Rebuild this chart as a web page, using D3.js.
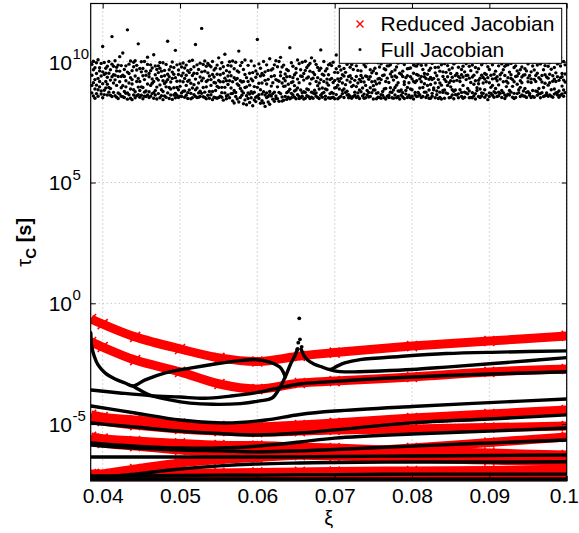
<!DOCTYPE html>
<html><head><meta charset="utf-8">
<script src="https://cdn.jsdelivr.net/npm/d3@7"></script>
<style>
html,body{margin:0;padding:0;background:#fff;}
svg{display:block;font-family:"Liberation Sans",Arial,Helvetica,sans-serif;}
</style></head><body>
<svg id="chart" width="579" height="533"></svg>
<script>
// ---- axis ticks ----
const xiTicks = [0.04, 0.05, 0.06, 0.07, 0.08, 0.09, 0.1];
const xiTickLabels = ["0.04", "0.05", "0.06", "0.07", "0.08", "0.09", "0.1"];
const tauTickExponents = [-5, 0, 5, 10];

// ---- Reduced Jacobian: time constants (log10 tau) on a common xi grid ----
const reducedXi = [0.0385, 0.04, 0.0442, 0.05, 0.0551, 0.06, 0.0655, 0.07, 0.08, 0.09, 0.1];
const reducedLogTau = [
  [-0.65, -0.86, -1.39, -1.89, -2.26, -2.41, -2.18, -2.04, -1.77, -1.56, -1.35],
  [-1.60, -1.81, -2.35, -2.84, -3.34, -3.55, -3.30, -3.22, -3.05, -2.84, -2.72],
  [-4.62, -4.71, -4.83, -4.98, -5.08, -5.12, -5.04, -4.95, -4.75, -4.58, -4.42],
  [-4.79, -4.87, -5.04, -5.20, -5.29, -5.33, -5.29, -5.24, -5.20, -5.14, -5.08],
  [-5.53, -5.60, -5.70, -5.80, -5.87, -5.89, -5.95, -5.99, -6.11, -6.20, -6.28],
  [-5.70, -5.78, -5.91, -6.07, -6.15, -6.20, -6.28, -6.32, -6.40, -6.49, -6.57],
  [-7.15, -7.07, -6.86, -6.61, -6.47, -6.38, -6.28, -6.20, -5.99, -5.76, -5.53],
  [-7.07, -7.07, -7.07, -7.04, -7.02, -7.00, -6.98, -6.96, -6.94, -6.92, -6.90],
  [-7.23, -7.23, -7.23, -7.21, -7.21, -7.19, -7.19, -7.19, -7.19, -7.19, -7.19]
];

// ---- Full Jacobian: fast branches on the same xi grid ----
const fullLogTau = [
  [-4.95, -5.00, -5.12, -5.29, -5.39, -5.45, -5.37, -5.24, -4.95, -4.79, -4.62],
  [-5.78, -5.82, -5.91, -5.99, -5.99, -5.91, -5.74, -5.58, -5.41, -5.29, -5.16],
  [-5.87, -5.91, -5.99, -6.07, -6.11, -6.15, -6.11, -6.05, -5.91, -5.78, -5.66],
  [-6.36, -6.36, -6.36, -6.36, -6.36, -6.36, -6.36, -6.34, -6.32, -6.30, -6.28],
  [-7.19, -7.19, -7.07, -6.86, -6.73, -6.65, -6.61, -6.59, -6.57, -6.57, -6.56],
  [-7.15, -7.15, -7.15, -7.13, -7.11, -7.11, -7.09, -7.09, -7.07, -7.07, -7.07],
  [-7.27, -7.27, -7.27, -7.27, -7.27, -7.27, -7.27, -7.27, -7.27, -7.27, -7.27]
];

// ---- Full Jacobian: branches with their own xi samples ----
const loopUpperXi = [0.03846, 0.0385, 0.03855, 0.0389, 0.0394, 0.0403, 0.0416, 0.0429, 0.0439, 0.0455, 0.0481, 0.0513, 0.0545, 0.0578, 0.0597, 0.0616, 0.0629, 0.0634, 0.0636];
const loopUpperLogTau = [-1.22, -1.45, -1.73, -2.18, -2.55, -2.88, -3.13, -3.30, -3.42, -3.17, -2.88, -2.68, -2.51, -2.37, -2.33, -2.43, -2.64, -2.88, -3.05];
const loopLowerXi = [0.0439, 0.0448, 0.0461, 0.0487, 0.0513, 0.0543, 0.0578, 0.0603, 0.0619, 0.0628, 0.0636, 0.0643, 0.0649, 0.0652];
const loopLowerLogTau = [-3.42, -3.59, -3.80, -4.00, -4.13, -4.18, -4.15, -4.04, -3.92, -3.55, -3.05, -2.51, -2.14, -1.89];
const midBranchXi = [0.0385, 0.0422, 0.0461, 0.0500, 0.0532, 0.0565, 0.0597, 0.0629, 0.0655, 0.0690, 0.0759, 0.0844, 0.1];
const midBranchLogTau = [-3.59, -3.71, -3.82, -3.88, -3.93, -3.84, -3.71, -3.49, -3.34, -3.25, -3.11, -2.99, -2.83];
const rightUpperXi = [0.06564, 0.0660, 0.0665, 0.0673, 0.0684, 0.0694, 0.0702, 0.0713, 0.0733, 0.0784, 0.0844, 0.0914, 0.1];
const rightUpperLogTau = [-1.89, -2.14, -2.35, -2.51, -2.64, -2.74, -2.62, -2.47, -2.33, -2.20, -2.08, -2.02, -1.97];
const rightLowerXi = [0.0694, 0.0704, 0.0720, 0.0759, 0.08, 0.0844, 0.0914, 0.1];
const rightLowerLogTau = [-2.74, -2.82, -2.84, -2.80, -2.74, -2.64, -2.47, -2.25];
const lowBranchXi = [0.0385, 0.0442, 0.05, 0.0552, 0.0578, 0.0611, 0.0655, 0.07, 0.08, 0.09, 0.1];
const lowBranchLogTau = [-4.25, -4.54, -4.83, -4.95, -4.93, -4.83, -4.60, -4.46, -4.27, -4.11, -3.96];
const spikeXi = [0.06542, 0.06551, 0.06529, 0.06573, 0.06516];
const spikeLogTau = [-0.62, -1.49, -1.63, -1.80, -1.90];

// ---- Full Jacobian: spurious slow modes, 4 values per xi sample (log10 tau x 100) ----
const cloudXiStart = 0.0386, cloudXiStep = 0.0002, cloudPerXi = 4;
const cloudLogTau100 = [
944,871,989,902,913,967,858,1002,887,975,926,849,996,903,951,868,931,884,1008,857,896,962,918,975,866,993,879,941,958,909,851,1063,882,947,997,864,952,891,973,918,
907,981,862,936,1001,874,952,893,861,967,924,889,938,856,990,1104,873,946,912,981,925,859,1004,944,977,902,853,962,848,939,986,871,961,917,866,1021,892,984,939,857,
855,944,1036,901,939,877,968,852,983,869,921,896,871,957,845,1132,951,912,990,863,849,1003,887,934,926,843,963,908,884,979,862,998,1004,876,941,851,918,966,859,985,
863,931,895,1074,972,853,918,881,896,958,1000,861,942,893,847,972,857,1001,926,874,961,879,944,856,908,989,862,1019,852,951,938,876,987,902,857,963,929,868,974,911,
872,1029,918,849,946,881,982,862,895,968,846,931,983,924,868,955,851,973,904,997,939,859,961,884,877,996,921,843,964,910,858,942,917,853,989,896,948,871,926,1085,
848,967,893,938,979,862,916,887,931,844,999,957,862,948,892,976,1047,869,934,851,893,987,861,919,966,884,947,852,857,920,991,898,942,978,871,856,878,953,917,995,
974,853,931,879,861,944,986,902,919,872,963,848,955,1002,883,924,847,968,911,869,1006,891,943,851,864,979,905,952,928,856,1071,884,891,951,852,987,853,912,968,871,
937,878,994,856,869,1138,921,958,989,855,893,932,852,961,874,1003,918,847,981,896,954,924,861,993,877,985,941,849,979,863,902,926,843,947,1001,877,914,966,853,937,
881,973,912,851,948,898,849,986,852,922,1016,893,971,857,917,946,894,996,853,872,841,952,979,917,932,871,894,1031,858,963,921,847,985,906,941,862,921,851,957,1000,
868,942,891,982,1003,869,917,838,881,971,829,934,926,856,998,873,962,908,846,931,833,1044,902,957,984,852,889,921,916,997,861,879,871,918,968,826,947,842,893,1007,
859,934,822,896,918,848,985,871,831,952,903,866,876,1003,851,929,955,869,921,818,842,983,897,874,936,853,962,835,894,1092,857,949,848,911,991,863,973,884,828,941,
866,951,839,912,829,944,876,1001,923,862,815,958,852,987,908,871,964,833,927,856,877,1012,864,824,939,858,966,899,845,971,913,868,987,874,836,942,858,926,1004,848,
923,847,979,896,873,1001,836,919,942,868,957,1018,837,978,912,854,898,931,841,986,856,949,899,921,968,844,938,872,877,963,907,853,939,886,847,1058,851,996,914,869,
917,862,981,934,946,901,853,879,883,954,847,972,1007,863,928,891,856,992,913,848,941,851,967,883,872,939,998,857,951,876,846,924,849,964,1002,873,932,887,859,976,
884,985,937,856,961,848,909,993,853,1016,874,928,932,871,956,849,867,947,882,1003,918,857,989,871,976,934,852,901,848,912,964,887,1049,861,926,973,891,948,869,853,
944,873,918,1001,857,962,887,845,912,884,971,928,987,851,903,946,849,926,992,868,931,873,851,984,869,998,914,853,922,847,956,891,893,971,1028,864,955,903,847,929,
852,981,919,887,966,857,931,1004,881,946,868,912,941,887,972,852,873,1041,905,956,924,862,989,878,998,939,863,851,857,916,977,942,931,849,897,988,902,968,856,1013,
874,1097,923,861,983,852,939,897,912,964,871,856,848,927,1002,883,962,876,943,918,1009,891,858,933,866,987,916,849,941,851,979,902,881,938,862,996,927,1003,873,854,
892,856,967,938,954,917,872,1024,846,962,901,883,973,883,919,1001,908,951,847,869,929,872,996,853,852,978,931,912,991,926,864,849,861,943,1008,877,945,887,851,971,
918,967,846,889,857,932,983,1002,983,861,914,852,874,949,892,987,938,873,959,851,849,1037,883,924,966,893,941,862,903,851,978,936,879,994,856,913,952,878,1005,846,
883,948,861,997,961,872,939,854,848,917,988,906,934,1003,866,881,893,971,852,942,972,861,913,1059,851,938,974,887,1001,884,929,857,918,952,846,986,862,914,983,873,
947,856,921,982,873,992,944,858,929,863,1004,891,985,917,852,939,856,1123,893,968,938,874,951,909,874,931,986,852,902,948,861,1002,964,883,927,849,849,973,906,935,
926,869,993,857,891,1014,931,884,954,851,912,976,863,942,879,1001,977,893,848,926,912,961,874,852,846,987,1017,903,939,873,958,881,883,927,849,992,1002,956,871,918,
868,938,902,984,913,851,967,1043,951,896,853,921,884,974,936,862,847,919,991,878,996,883,864,943,862,951,923,1006,939,867,977,851,918,1001,884,933,873,946,856,968,
981,902,849,937,853,958,1011,874,926,871,943,992,944,1002,867,889,879,932,981,851,963,852,914,1068,851,986,937,872,907,944,859,1003,976,868,921,846,892,957,998,881,
856,923,971,909,932,887,852,1026,987,944,871,858,869,912,996,935,951,853,928,884,917,996,862,947,843,934,979,1004,968,871,913,856,894,1011,944,869,929,861,987,902,
1003,948,876,853,871,931,961,889,938,856,1002,921,859,983,904,874,946,1032,869,928,881,954,991,852,967,872,917,1009,848,943,862,981,919,986,897,858,987,866,934,912,
862,957,1006,881,931,874,946,993,898,1047,853,926,976,917,869,848,852,939,983,1001,941,868,907,962,884,1003,951,872,967,856,921,894,913,978,862,937,858,944,1016,879,
946,889,971,857,873,962,852,1002,991,917,876,933,861,943,1004,869,929,852,958,914,982,1039,881,856,853,927,966,998,918,879,1001,943,877,952,861,986,1004,934,889,867,
868,991,927,851,943,872,1008,916,856,967,893,1024,984,911,859,946,871,1002,937,862,932,857,981,903,862,948,913,996,1001,884,969,857,919,853,942,1013,887,976,928,866,
954,871,1005,918,873,938,862,991,996,923,879,853,861,982,1017,934,938,867,951,899,883,1001,924,857,949,872,987,916
];

// ---- layout ----
const W = 579, H = 533;
const plot = {left: 90.7, right: 566.7, top: 3.5, bottom: 481};

const svg = d3.select("#chart");

const x = d3.scaleLinear().domain([0.03845, 0.1]).range([plot.left, plot.right]);
const y = d3.scaleLog().domain([Math.pow(10, -7.355), Math.pow(10, 12.41)]).range([plot.bottom, plot.top]);
const yl = v => y(Math.pow(10, v));

svg.append("defs").append("clipPath").attr("id", "plotClip")
  .append("rect").attr("x", plot.left).attr("y", plot.top)
  .attr("width", plot.right - plot.left).attr("height", plot.bottom - plot.top);

// grid
const grid = svg.append("g").attr("stroke", "#b0b0b0").attr("stroke-width", 1)
  .attr("stroke-dasharray", "1,3");
grid.selectAll("line.gx").data(xiTicks).join("line").attr("class", "gx")
  .attr("x1", d => x(d)).attr("x2", d => x(d))
  .attr("y1", plot.top).attr("y2", plot.bottom);
grid.selectAll("line.gy").data(tauTickExponents).join("line").attr("class", "gy")
  .attr("x1", plot.left).attr("x2", plot.right)
  .attr("y1", d => yl(d)).attr("y2", d => yl(d));

const marks = svg.append("g").attr("clip-path", "url(#plotClip)");

const line = d3.line().x(d => x(d[0])).y(d => yl(d[1])).curve(d3.curveCatmullRom.alpha(0.5));

// Reduced Jacobian bands (dense x markers)
const RED = "#ff0000";
const redG = marks.append("g");
reducedLogTau.forEach(series => {
  const pts = reducedXi.map((xi, i) => [xi, series[i]]);
  redG.append("path").attr("d", line(pts)).attr("fill", "none")
    .attr("stroke", RED).attr("stroke-width", 9).attr("stroke-linejoin", "round");
  redG.selectAll(null).data(pts).join("path")
    .attr("transform", d => `translate(${x(d[0])},${yl(d[1])})`)
    .attr("d", "M-5,-5L5,5M-5,5L5,-5")
    .attr("stroke", RED).attr("stroke-width", 1.6).attr("fill", "none");
});

// Full Jacobian branches
const blackG = marks.append("g").attr("fill", "none").attr("stroke", "#000")
  .attr("stroke-width", 3.4).attr("stroke-linejoin", "round").attr("stroke-linecap", "round");
fullLogTau.forEach(series => {
  blackG.append("path").attr("d", line(reducedXi.map((xi, i) => [xi, series[i]])));
});
[[loopUpperXi, loopUpperLogTau], [loopLowerXi, loopLowerLogTau], [midBranchXi, midBranchLogTau],
 [rightUpperXi, rightUpperLogTau], [rightLowerXi, rightLowerLogTau], [lowBranchXi, lowBranchLogTau]]
  .forEach(([xs, ts]) => {
    blackG.append("path").attr("d", line(xs.map((xi, i) => [xi, ts[i]])));
  });

const dotG = marks.append("g").attr("fill", "#000");
dotG.selectAll("circle.sp").data(spikeXi.map((xi, i) => [xi, spikeLogTau[i]])).join("circle")
  .attr("class", "sp").attr("cx", d => x(d[0])).attr("cy", d => yl(d[1])).attr("r", 1.9);

const cloud = cloudLogTau100.map((v, k) => [cloudXiStart + Math.floor(k / cloudPerXi) * cloudXiStep, v / 100]);
dotG.selectAll("circle.cl").data(cloud).join("circle")
  .attr("class", "cl").attr("cx", d => x(d[0])).attr("cy", d => yl(d[1])).attr("r", 1.7);

// axes (ticks point inward)
const xAxisB = d3.axisBottom(x).tickValues(xiTicks).tickSizeInner(-5).tickSizeOuter(0)
  .tickPadding(7).tickFormat((d, i) => xiTickLabels[i]);
const gxb = svg.append("g").attr("transform", `translate(0,${plot.bottom})`).call(xAxisB);
const gxt = svg.append("g").attr("transform", `translate(0,${plot.top})`)
  .call(d3.axisTop(x).tickValues(xiTicks).tickSizeInner(-5).tickSizeOuter(0).tickFormat(""));
const yTickVals = tauTickExponents.map(e => Math.pow(10, e));
const gyl = svg.append("g").attr("transform", `translate(${plot.left},0)`)
  .call(d3.axisLeft(y).tickValues(yTickVals).tickSizeInner(-5).tickSizeOuter(0).tickFormat(""));
const gyr = svg.append("g").attr("transform", `translate(${plot.right},0)`)
  .call(d3.axisRight(y).tickValues(yTickVals).tickSizeInner(-5).tickSizeOuter(0).tickFormat(""));
[gxb, gxt, gyl, gyr].forEach(g => {
  g.select(".domain").remove();
  g.selectAll(".tick line").attr("stroke", "#000");
});
gxb.selectAll(".tick text").attr("font-size", 21).attr("fill", "#000")
  .attr("font-family", "'Liberation Sans',Arial,Helvetica,sans-serif");
// the last label sits against the right edge of the figure
gxb.selectAll(".tick text").filter((d, i, n) => i === n.length - 1)
  .attr("text-anchor", "end").attr("x", W - 0.5 - x(0.1));

// box
svg.append("rect").attr("x", plot.left).attr("y", plot.top)
  .attr("width", plot.right - plot.left).attr("height", plot.bottom - plot.top)
  .attr("fill", "none").attr("stroke", "#000").attr("stroke-width", 1.2);

// y tick labels 10^e
const yLab = svg.append("g").attr("fill", "#000");
tauTickExponents.forEach(e => {
  const yy = yl(e);
  yLab.append("text").attr("x", 72).attr("y", yy + 7.8).attr("text-anchor", "end")
    .attr("font-size", 21).text("10");
  yLab.append("text").attr("x", 72.5).attr("y", yy - 3).attr("text-anchor", "start")
    .attr("font-size", 15).text(String(e));
});

// axis titles
svg.append("text").attr("x", (plot.left + plot.right) / 2).attr("y", 525)
  .attr("text-anchor", "middle").attr("font-size", 20).text("ξ");

const yt = svg.append("text").attr("transform", `translate(31,${(plot.top + plot.bottom) / 2}) rotate(-90)`)
  .attr("text-anchor", "middle").attr("font-size", 20).attr("font-weight", "bold");
yt.append("tspan").attr("font-weight", "normal").text("τ");
yt.append("tspan").attr("font-size", 15).attr("dy", 5).text("C");
yt.append("tspan").attr("dy", -5).text(" [s]");

// legend
const lg = svg.append("g");
lg.append("rect").attr("x", 339.3).attr("y", 8.3).attr("width", 222.4).attr("height", 55)
  .attr("fill", "#fff").attr("stroke", "#000").attr("stroke-width", 1);
lg.append("path").attr("d", "M356.5,20.5L363.5,27.5M356.5,27.5L363.5,20.5")
  .attr("stroke", RED).attr("stroke-width", 1.4);
lg.append("circle").attr("cx", 360).attr("cy", 49.5).attr("r", 1.5).attr("fill", "#000");
lg.append("text").attr("x", 380.5).attr("y", 31).attr("font-size", 21).text("Reduced Jacobian");
lg.append("text").attr("x", 380.5).attr("y", 56.5).attr("font-size", 21).text("Full Jacobian");
</script>
</body></html>
